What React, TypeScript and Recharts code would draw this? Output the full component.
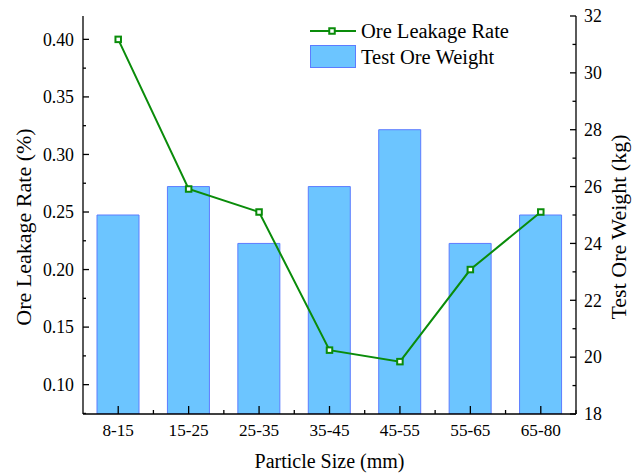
import React from 'react';
import { ComposedChart, Bar, Line, XAxis, YAxis, Legend, Label } from 'recharts';

const sizes = ['8-15', '15-25', '25-35', '35-45', '45-55', '55-65', '65-80'];
const leakageRate = [0.4, 0.27, 0.25, 0.13, 0.12, 0.2, 0.25];
const oreWeight = [25, 26, 24, 26, 28, 24, 25];

const leftTicks = [0.075, 0.1, 0.125, 0.15, 0.175, 0.2, 0.225, 0.25, 0.275, 0.3, 0.325, 0.35, 0.375, 0.4];
const rightTicks = [18, 19, 20, 21, 22, 23, 24, 25, 26, 27, 28, 29, 30, 31, 32];

const GREEN = '#0A8C0A';
const BAR_FILL = '#6CC5FF';
const BAR_STROKE = '#5C7CFF';
const FONT = 'Liberation Serif';

const data = sizes.map((s, i) => ({ size: s, rate: leakageRate[i], weight: oreWeight[i] }));

const LeftTick = (props: any) => {
  const { x, y, payload } = props;
  const major = Math.round(payload.value * 1000) % 50 === 0;
  return (
    <g>
      <line x1={x} x2={x + (major ? 6 : 3)} y1={y} y2={y} stroke="#000" strokeWidth={1.3} />
      {major && (
        <text x={x - 9} y={y} dy="0.35em" textAnchor="end" fontFamily={FONT} fontSize={17.8} fill="#000">
          {payload.value.toFixed(2)}
        </text>
      )}
    </g>
  );
};

const RightTick = (props: any) => {
  const { x, y, payload } = props;
  const major = payload.value % 2 === 0;
  return (
    <g>
      <line x1={x} x2={x - (major ? 6 : 3.5)} y1={y} y2={y} stroke="#000" strokeWidth={1.3} />
      {major && (
        <text x={x + 8} y={y} dy="0.35em" textAnchor="start" fontFamily={FONT} fontSize={17.8} fill="#000">
          {payload.value}
        </text>
      )}
    </g>
  );
};

const BottomTick = (props: any) => {
  const { x, y, payload } = props;
  return (
    <g>
      <line x1={x} x2={x} y1={y} y2={y - 8} stroke="#000" strokeWidth={1.3} />
      <line x1={x + 35.2} x2={x + 35.2} y1={y} y2={y - 4} stroke="#000" strokeWidth={1.3} />
      <text x={x} y={y + 22} textAnchor="middle" fontFamily={FONT} fontSize={17.2} fill="#000">
        {payload.value}
      </text>
    </g>
  );
};

const SquareDot = (props: any) => {
  const { cx, cy, index } = props;
  return (
    <rect key={`dot-${index}`} x={cx - 2.75} y={cy - 2.75} width={5.5} height={5.5}
      fill="#fff" stroke={GREEN} strokeWidth={2} />
  );
};

const LegendContent = () => (
  <svg width={230} height={56} style={{ display: 'block' }}>
    <line x1={5} x2={51} y1={13} y2={13} stroke={GREEN} strokeWidth={2} />
    <rect x={24.25} y={10.25} width={5.5} height={5.5} fill="#fff" stroke={GREEN} strokeWidth={2} />
    <text x={56} y={19.5} fontFamily={FONT} fontSize={20.5} fill="#000">Ore Leakage Rate</text>
    <rect x={5.5} y={27.5} width={45} height={22} fill={BAR_FILL} stroke={BAR_STROKE} strokeWidth={1} />
    <text x={56} y={45.5} fontFamily={FONT} fontSize={20.5} fill="#000">Test Ore Weight</text>
  </svg>
);

export default function App() {
  return (
    <div style={{ position: 'absolute', left: 0, top: 0, background: '#fff', fontFamily: FONT }}>
      <ComposedChart width={633} height={474} data={data}
        margin={{ top: 16, right: 0, bottom: 0, left: 0 }}>
        <XAxis dataKey="size" xAxisId="bottom" height={60} interval={0}
          tickSize={0} tickMargin={0} tickLine={false} tick={<BottomTick />}
          axisLine={{ stroke: '#000', strokeWidth: 1.3 }}>
          <Label content={() => (
            <text x={329.5} y={468} textAnchor="middle" fontFamily={FONT} fontSize={20} fill="#000">
              Particle Size (mm)
            </text>
          )} />
        </XAxis>
        <XAxis dataKey="size" xAxisId="top" orientation="top" height={0} tick={false} tickLine={false}
          axisLine={{ stroke: '#000', strokeWidth: 1.3 }} />
        <YAxis yAxisId="left" width={83} domain={[0.0745, 0.4203]} ticks={leftTicks} interval={0}
          allowDataOverflow tickSize={0} tickMargin={0} tickLine={false} tick={<LeftTick />}
          axisLine={{ stroke: '#000', strokeWidth: 1.3 }}>
          <Label content={() => (
            <text x={31} y={227} transform="rotate(-90 31 227)" textAnchor="middle"
              fontFamily={FONT} fontSize={22} fill="#000">
              Ore Leakage Rate (%)
            </text>
          )} />
        </YAxis>
        <YAxis yAxisId="right" orientation="right" width={57} domain={[18, 32]} ticks={rightTicks} interval={0}
          allowDataOverflow tickSize={0} tickMargin={0} tickLine={false} tick={<RightTick />}
          axisLine={{ stroke: '#000', strokeWidth: 1.3 }}>
          <Label content={() => (
            <text x={626} y={227} transform="rotate(-90 626 227)" textAnchor="middle"
              fontFamily={FONT} fontSize={22} fill="#000">
              Test Ore Weight (kg)
            </text>
          )} />
        </YAxis>
        <Legend layout="vertical" align="center" verticalAlign="middle" content={<LegendContent />}
          wrapperStyle={{ position: 'absolute', left: 305, top: 18, width: 230, height: 56 }} />
        <Bar dataKey="weight" name="Test Ore Weight" xAxisId="bottom" yAxisId="right" barSize={42}
          fill={BAR_FILL} stroke={BAR_STROKE} strokeWidth={1} isAnimationActive={false} />
        <Line dataKey="rate" name="Ore Leakage Rate" xAxisId="bottom" yAxisId="left" type="linear"
          stroke={GREEN} strokeWidth={2} dot={SquareDot} activeDot={false} isAnimationActive={false} />
      </ComposedChart>
    </div>
  );
}
